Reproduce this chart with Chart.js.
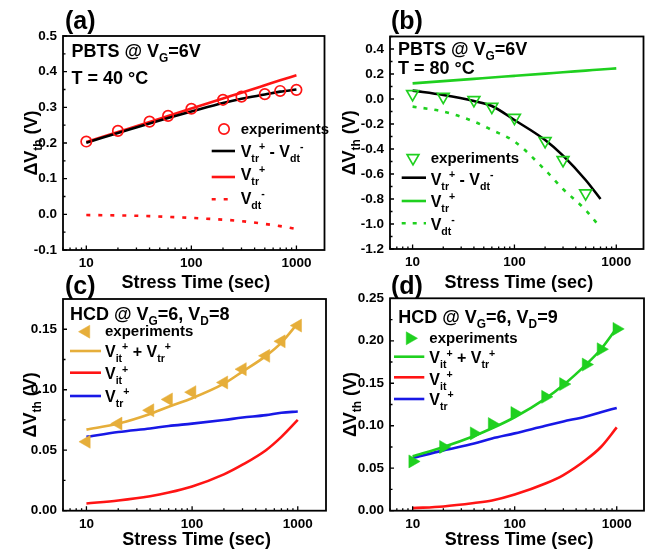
<!DOCTYPE html>
<html>
<head>
<meta charset="utf-8">
<script src="https://cdn.jsdelivr.net/npm/chart.js@4/dist/chart.umd.min.js"></script>
<style>
  html, body { margin: 0; padding: 0; background: #fff; }
  #wrap { position: relative; width: 652px; height: 557px; }
  #wrap canvas { position: absolute; left: 0; top: 0; }
</style>
</head>
<body>
<div id="wrap">
  <canvas id="chartA" width="652" height="557"></canvas>
  <canvas id="chartB" width="652" height="557"></canvas>
  <canvas id="chartC" width="652" height="557"></canvas>
  <canvas id="chartD" width="652" height="557"></canvas>
</div>
<script>
// stress times (sec)
const times = [10, 20, 40, 60, 100, 200, 300, 500, 700, 1000]
const timesExpB = [10, 20, 40, 60, 100, 200, 300, 500]
const timesFitB = [10, 20, 40, 60, 100, 200, 300, 500, 700]

// (a) PBTS @ VG=6V, 40 °C
const aExp = [0.204, 0.234, 0.260, 0.276, 0.296, 0.321, 0.330, 0.337, 0.346, 0.349]
const aTrDt = [0.201, 0.228, 0.255, 0.270, 0.288, 0.312, 0.324, 0.336, 0.344, 0.350]
const aTr = [0.203, 0.231, 0.259, 0.276, 0.297, 0.325, 0.341, 0.362, 0.376, 0.390]
const aDt = [-0.002, -0.003, -0.005, -0.007, -0.010, -0.015, -0.019, -0.027, -0.033, -0.041]

// (b) PBTS @ VG=6V, 80 °C
const bExp = [0.040, 0.018, -0.008, -0.062, -0.150, -0.336, -0.488, -0.754]
const bTrDt = [0.067, 0.032, -0.016, -0.056, -0.168, -0.328, -0.453, -0.648, -0.800]
const bTr = [0.125, 0.143, 0.161, 0.172, 0.185, 0.203, 0.214, 0.227, 0.236, 0.245]
const bDt = [-0.061, -0.100, -0.180, -0.248, -0.340, -0.568, -0.720, -0.888, -1.030]

// (c) HCD @ VG=6, VD=8
const cExp = [0.057, 0.072, 0.083, 0.092, 0.098, 0.106, 0.117, 0.128, 0.140, 0.153]
const cItTr = [0.067, 0.072, 0.080, 0.086, 0.093, 0.105, 0.115, 0.128, 0.139, 0.155]
const cIt = [0.006, 0.0085, 0.012, 0.015, 0.020, 0.030, 0.038, 0.050, 0.061, 0.075]
const cTr = [0.061, 0.065, 0.068, 0.070, 0.072, 0.075, 0.077, 0.079, 0.081, 0.082]

// (d) HCD @ VG=6, VD=9
const dExp = [0.058, 0.075, 0.091, 0.102, 0.115, 0.134, 0.149, 0.172, 0.190, 0.214]
const dItTr = [0.064, 0.075, 0.088, 0.097, 0.110, 0.132, 0.148, 0.172, 0.190, 0.215]
const dIt = [0.003, 0.005, 0.009, 0.012, 0.019, 0.032, 0.042, 0.060, 0.075, 0.098]
const dTr = [0.062, 0.071, 0.079, 0.085, 0.091, 0.100, 0.105, 0.111, 0.116, 0.121]

// tick labels
const xTicks = [10, 100, 1000]
const aYTicks = [-0.1, 0.0, 0.1, 0.2, 0.3, 0.4, 0.5]
const bYTicks = [-1.2, -1.0, -0.8, -0.6, -0.4, -0.2, 0.0, 0.2, 0.4]
const cYTicks = [0.00, 0.05, 0.10, 0.15]
const dYTicks = [0.00, 0.05, 0.10, 0.15, 0.20, 0.25]

const FONT = '"Liberation Sans", Arial, sans-serif'
const RED = '#ff1414'
const GREEN = '#1fd01f'
const ORANGE = '#e6ae3a'
const BLUE = '#1818e6'

function font(size) {
  return `bold ${size}px ${FONT}`
}

// "V_{tr}^{+}" -> [['V',''],['tr','sub'],['+','sup']]
function parseRich(str) {
  const parts = []
  const re = /([_^])\{([^}]*)\}/g
  let last = 0
  let m
  while ((m = re.exec(str))) {
    if (m.index > last) parts.push([str.slice(last, m.index), ''])
    parts.push([m[2], m[1] === '_' ? 'sub' : 'sup'])
    last = re.lastIndex
  }
  if (last < str.length) parts.push([str.slice(last), ''])
  return parts
}

function drawRich(ctx, str, x, y, size, align = 'left') {
  const parts = parseRich(str)
  let w = 0
  for (const [t, k] of parts) {
    ctx.font = font(k ? size * 0.66 : size)
    w += ctx.measureText(t).width
  }
  let cx = align === 'center' ? x - w / 2 : x
  ctx.textAlign = 'left'
  ctx.textBaseline = 'alphabetic'
  for (const [t, k] of parts) {
    ctx.font = font(k ? size * 0.66 : size)
    const dy = k === 'sub' ? size * 0.3 : k === 'sup' ? -size * 0.42 : 0
    ctx.fillText(t, cx, y + dy)
    cx += ctx.measureText(t).width
  }
}

function series(xs, ys) {
  return xs.map((x, i) => ({ x, y: ys[i] }))
}

function decor(cfg) {
  return {
    id: 'decor',
    afterDraw(chart) {
      const { ctx, chartArea: a, scales: { x, y } } = chart
      ctx.save()
      ctx.strokeStyle = '#000'
      ctx.fillStyle = '#000'

      // frame
      ctx.lineWidth = 1.8
      ctx.strokeRect(a.left, a.top, a.right - a.left, a.bottom - a.top)

      // inward ticks, y
      ctx.lineWidth = 1.3
      ctx.beginPath()
      const yt = y.ticks.map(t => t.value)
      yt.forEach(v => {
        const py = y.getPixelForValue(v)
        ctx.moveTo(a.left, py); ctx.lineTo(a.left + 4, py)
      })
      const step = yt[1] - yt[0]
      for (let v = yt[0] + step / 2; v < y.max; v += step) {
        const py = y.getPixelForValue(v)
        ctx.moveTo(a.left, py); ctx.lineTo(a.left + 2.5, py)
      }
      // inward ticks, x (log)
      for (let dec = 1; dec <= 1000; dec *= 10) {
        for (let k = 1; k <= 9; k++) {
          const v = dec * k
          if (v < x.min || v > x.max) continue
          const px = x.getPixelForValue(v)
          const len = k === 1 ? 4.5 : 2.5
          ctx.moveTo(px, a.bottom); ctx.lineTo(px, a.bottom - len)
        }
      }
      ctx.stroke()

      // panel letter
      ctx.font = font(25)
      ctx.textBaseline = 'alphabetic'
      ctx.textAlign = 'left'
      ctx.fillText(cfg.letter.text, cfg.letter.x, cfg.letter.y)

      // axis titles
      drawRich(ctx, 'Stress Time (sec)', (a.left + a.right) / 2 + 2, cfg.xTitleY, 18, 'center')
      ctx.save()
      ctx.translate(cfg.yTitleX, (a.top + a.bottom) / 2)
      ctx.rotate(-Math.PI / 2)
      drawRich(ctx, 'ΔV_{th} (V)', 0, 0, 18, 'center')
      ctx.restore()

      // notes
      cfg.notes.forEach(n => drawRich(ctx, n.text, n.x, n.y, 18))

      // legend
      const ds = chart.data.datasets
      const lg = cfg.legend
      const e = ds[0]
      ctx.fillStyle = e.pointBackgroundColor
      ctx.strokeStyle = e.pointBorderColor
      ctx.lineWidth = e.pointBorderWidth
      Chart.helpers.drawPoint(ctx, {
        pointStyle: e.pointStyle,
        radius: e.pointRadius,
        rotation: e.pointRotation,
        borderWidth: e.pointBorderWidth
      }, lg.mx, lg.my)
      ctx.fillStyle = '#000'
      ctx.font = font(15)
      ctx.textAlign = 'left'
      ctx.fillText(e.label, lg.tx, lg.ey)
      lg.rows.forEach((r, i) => {
        const d = ds[i + 1]
        ctx.save()
        ctx.strokeStyle = d.borderColor
        ctx.lineWidth = d.borderWidth
        ctx.setLineDash(d.borderDash || [])
        ctx.beginPath()
        ctx.moveTo(lg.x0, r.ly); ctx.lineTo(lg.x1, r.ly)
        ctx.stroke()
        ctx.restore()
        ctx.fillStyle = '#000'
        drawRich(ctx, d.label, lg.tx, r.ty, 16)
      })
      ctx.restore()
    }
  }
}

function makePanel(cfg) {
  const W = 652, H = 557
  const ar = cfg.area
  new Chart(document.getElementById(cfg.id), {
    type: 'line',
    data: { datasets: cfg.datasets },
    options: {
      responsive: false,
      animation: false,
      devicePixelRatio: 1,
      layout: {
        padding: { left: ar.left - 60, top: ar.top, right: W - ar.right, bottom: H - ar.bottom - 40 }
      },
      plugins: { legend: { display: false }, tooltip: { enabled: false } },
      elements: { line: { cubicInterpolationMode: 'monotone' } },
      scales: {
        x: {
          type: 'logarithmic',
          min: 6,
          max: 1850,
          grid: { display: false, drawTicks: false },
          border: { display: false },
          afterBuildTicks: s => { s.ticks = xTicks.map(value => ({ value })) },
          afterFit: s => { s.height = 40 },
          ticks: {
            autoSkip: false,
            maxRotation: 0,
            padding: 5,
            color: '#000',
            font: { family: FONT, size: 13.5, weight: 'bold' },
            callback: v => String(v)
          }
        },
        y: {
          min: cfg.yMin,
          max: cfg.yMax,
          grid: { display: false, drawTicks: false },
          border: { display: false },
          afterBuildTicks: s => { s.ticks = cfg.yTicks.map(value => ({ value })) },
          afterFit: s => { s.width = 60 },
          ticks: {
            padding: 6,
            color: '#000',
            font: { family: FONT, size: 13.5, weight: 'bold' },
            callback: v => Number(v).toFixed(cfg.digits)
          }
        }
      }
    },
    plugins: [decor(cfg)]
  })
}

function expSet(xs, ys, color, style, rotation, filled, radius) {
  return {
    label: 'experiments',
    data: series(xs, ys),
    showLine: false,
    pointStyle: style,
    pointRotation: rotation,
    pointRadius: radius,
    pointBorderWidth: filled ? 0.5 : 1.7,
    pointBorderColor: color,
    pointBackgroundColor: filled ? color : 'rgba(0,0,0,0)',
    borderColor: color,
    backgroundColor: color
  }
}

function lineSet(label, xs, ys, color, dash) {
  return {
    label,
    data: series(xs, ys),
    borderColor: color,
    backgroundColor: color,
    borderWidth: 2.6,
    borderDash: dash,
    pointRadius: 0
  }
}

makePanel({
  id: 'chartA',
  area: { left: 63, top: 36, right: 324.5, bottom: 250 },
  yMin: -0.1, yMax: 0.5, yTicks: aYTicks, digits: 1,
  letter: { text: '(a)', x: 65, y: 28.5 },
  xTitleY: 288, yTitleX: 37,
  notes: [
    { text: 'PBTS @ V_{G}=6V', x: 71.5, y: 57 },
    { text: 'T = 40 °C', x: 71.5, y: 83.5 }
  ],
  legend: {
    mx: 224, my: 129, tx: 240.7, ey: 134, x0: 211.7, x1: 235,
    rows: [{ ly: 151, ty: 157 }, { ly: 177, ty: 180 }, { ly: 199.3, ty: 204 }]
  },
  datasets: [
    expSet(times, aExp, RED, 'circle', 0, false, 5.2),
    lineSet('V_{tr}^{+} - V_{dt}^{-}', times, aTrDt, '#000'),
    lineSet('V_{tr}^{+}', times, aTr, RED),
    lineSet('V_{dt}^{-}', times, aDt, RED, [4, 8])
  ]
})

makePanel({
  id: 'chartB',
  area: { left: 390, top: 36.5, right: 651, bottom: 249 },
  yMin: -1.2, yMax: 0.5, yTicks: bYTicks, digits: 1,
  letter: { text: '(b)', x: 391, y: 28.5 },
  xTitleY: 288, yTitleX: 355,
  notes: [
    { text: 'PBTS @ V_{G}=6V', x: 398, y: 55 },
    { text: 'T = 80 °C', x: 398, y: 73.5 }
  ],
  legend: {
    mx: 413, my: 158, tx: 430.7, ey: 163, x0: 401.7, x1: 426,
    rows: [{ ly: 177.7, ty: 185 }, { ly: 201, ty: 206.7 }, { ly: 223.3, ty: 230 }]
  },
  datasets: [
    expSet(timesExpB, bExp, GREEN, 'triangle', 180, false, 6.8),
    lineSet('V_{tr}^{+} - V_{dt}^{-}', timesFitB, bTrDt, '#000'),
    lineSet('V_{tr}^{+}', times, bTr, GREEN),
    lineSet('V_{dt}^{-}', timesFitB, bDt, GREEN, [4, 7])
  ]
})

makePanel({
  id: 'chartC',
  area: { left: 63, top: 299, right: 326, bottom: 510.7 },
  yMin: 0, yMax: 0.175, yTicks: cYTicks, digits: 2,
  letter: { text: '(c)', x: 65, y: 293.5 },
  xTitleY: 545, yTitleX: 36,
  notes: [
    { text: 'HCD @ V_{G}=6, V_{D}=8', x: 70, y: 319.5 }
  ],
  legend: {
    mx: 86, my: 331.7, tx: 105, ey: 336, x0: 70, x1: 101,
    rows: [{ ly: 351, ty: 356.7 }, { ly: 372.7, ty: 379.3 }, { ly: 396, ty: 401.7 }]
  },
  datasets: [
    expSet(times, cExp, ORANGE, 'triangle', -90, true, 7.5),
    lineSet('V_{it}^{+} + V_{tr}^{+}', times, cItTr, ORANGE),
    lineSet('V_{it}^{+}', times, cIt, RED),
    lineSet('V_{tr}^{+}', times, cTr, BLUE)
  ]
})

makePanel({
  id: 'chartD',
  area: { left: 390, top: 298.3, right: 651, bottom: 510.7 },
  yMin: 0, yMax: 0.25, yTicks: dYTicks, digits: 2,
  letter: { text: '(d)', x: 391, y: 293.5 },
  xTitleY: 545, yTitleX: 356,
  notes: [
    { text: 'HCD @ V_{G}=6, V_{D}=9', x: 398.3, y: 322.5 }
  ],
  legend: {
    mx: 410, my: 338.3, tx: 429.3, ey: 343, x0: 394, x1: 424.3,
    rows: [{ ly: 356.7, ty: 363.3 }, { ly: 377.3, ty: 385 }, { ly: 399, ty: 405 }]
  },
  datasets: [
    expSet(times, dExp, GREEN, 'triangle', 90, true, 7.5),
    lineSet('V_{it}^{+} + V_{tr}^{+}', times, dItTr, GREEN),
    lineSet('V_{it}^{+}', times, dIt, RED),
    lineSet('V_{tr}^{+}', times, dTr, BLUE)
  ]
})
</script>
</body>
</html>
